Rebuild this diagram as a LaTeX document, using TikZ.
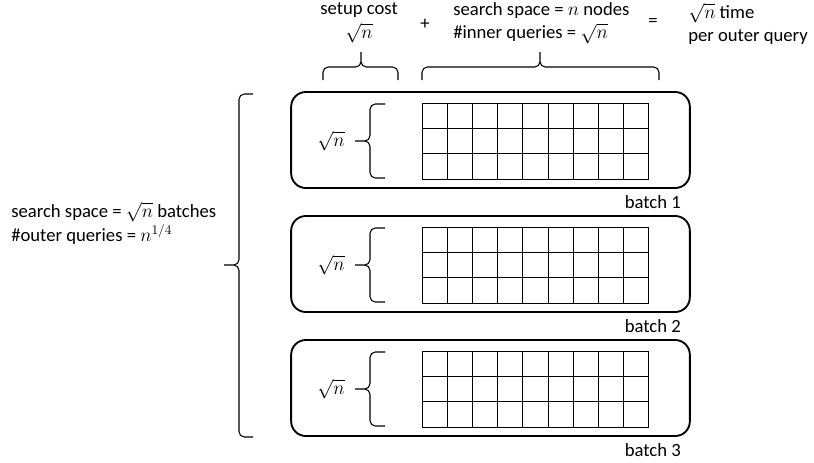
\documentclass[tikz,border=0pt]{standalone}
\usepackage{fontspec}
\setmainfont{Carlito}

\begin{document}
\begin{tikzpicture}[x=0.75pt,y=-0.75pt,font=\fontsize{14}{17.5}\selectfont,
  batch box/.style={draw,line width=1.4pt,rounded corners=11pt,minimum width=299pt,minimum height=72pt},
  curly/.style={line width=0.8pt,rounded corners=4pt},
  cell line/.style={line width=0.7pt}]

  \useasboundingbox (0,0) rectangle (814,462);

  % top labels
  \node[align=center,inner sep=0pt] (setup) at (359,23) {setup cost\\$\sqrt{n}$};
  \node (plus) at (425,24) {+};
  \node[anchor=west,align=left,inner sep=0pt] (inner) at (453,23) {search space = $n$ nodes\\\#inner queries = $\sqrt{n}$};
  \node (eq) at (653,22) {=};
  \node[anchor=west,align=left,inner sep=0pt] (total) at (688,24) {$\sqrt{n}$ time\\per outer query};

  % top braces
  \draw[curly] (323,80) -- (323,67) -- (361,67) -- (361,52) (361,52) -- (361,67) -- (398,67) -- (398,80);
  \draw[curly] (422,80) -- (422,67) -- (540,67) -- (540,52) (540,52) -- (540,67) -- (659,67) -- (659,80);

  % left label and outer brace
  \node[anchor=west,align=left,inner sep=0pt,font=\fontsize{14}{18}\selectfont] (outer) at (11,223) {search space = $\sqrt{n}$ batches\\\#outer queries = $n^{1/4}$};
  \draw[curly] (253,94) -- (239,94) -- (239,265) -- (224,265) (224,265) -- (239,265) -- (239,437) -- (253,437);

  % batches
  \foreach \b in {1,2,3}{
    \node[batch box] (box\b) at (490.5,{140+124*(\b-1)}) {};
    \node[anchor=east,inner sep=0pt] (lbl\b) at (681,{202+124*(\b-1)}) {batch \b};
    \node (rows\b) at (331,{141+124*(\b-1)}) {$\sqrt{n}$};
    \draw[curly] (385,{104+124*(\b-1)}) -- (370,{104+124*(\b-1)}) -- (370,{141+124*(\b-1)}) -- (355,{141+124*(\b-1)})
                 (355,{141+124*(\b-1)}) -- (370,{141+124*(\b-1)}) -- (370,{178+124*(\b-1)}) -- (385,{178+124*(\b-1)});
    \foreach \i in {0,...,9}
      \draw[cell line] ({422+25.2*\i},{103+124*(\b-1)}) -- ({422+25.2*\i},{179+124*(\b-1)});
    \foreach \j in {0,...,3}
      \draw[cell line] (422,{103+25.33*\j+124*(\b-1)}) -- (649,{103+25.33*\j+124*(\b-1)});
  }
\end{tikzpicture}
\end{document}
